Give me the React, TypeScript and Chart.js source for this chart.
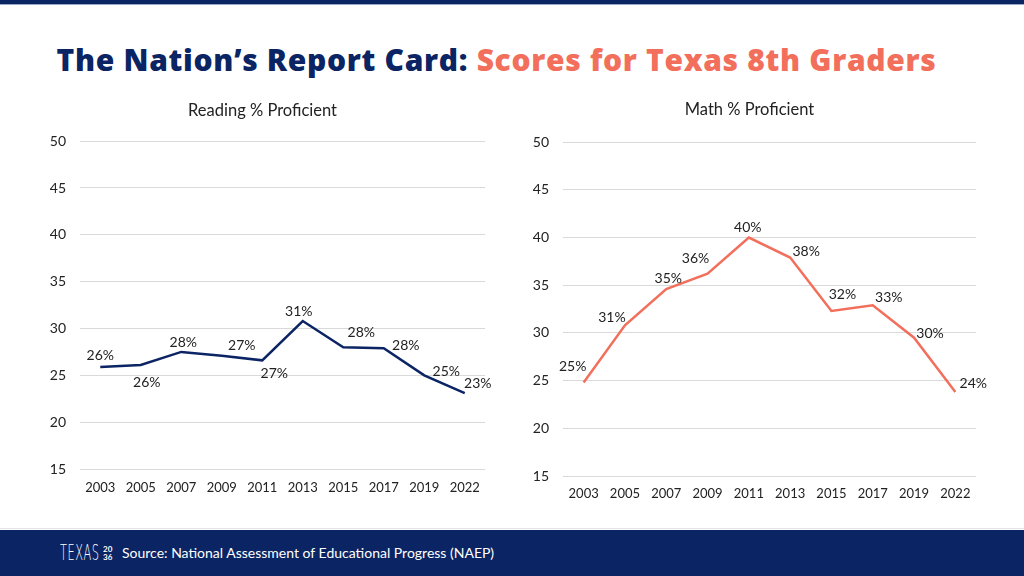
import React, { useEffect, useRef } from "react";
import { Chart, registerables } from "chart.js";

Chart.register(...registerables);

const years = ["2003", "2005", "2007", "2009", "2011", "2013", "2015", "2017", "2019", "2022"];
const readingValues = [25.9, 26.1, 27.5, 27.1, 26.6, 30.8, 28.0, 27.9, 25.0, 23.1];
const readingLabels = ["26%", "26%", "28%", "27%", "27%", "31%", "28%", "28%", "25%", "23%"];
const mathValues = [24.8, 30.8, 34.6, 36.2, 40.0, 37.9, 32.3, 32.9, 29.5, 23.8];
const mathLabels = ["25%", "31%", "35%", "36%", "40%", "38%", "32%", "33%", "30%", "24%"];
const yTicks = [15, 20, 25, 30, 35, 40, 45, 50];

const NAVY = "#0b2463";
const CORAL = "#f26f5c";
const FONT = "Lato, 'Noto Sans', sans-serif";

const readingOffsets: [number, number][] = [
  [0, -11], [6, 17], [2, -9], [20, -10], [12, 13], [-4, -10], [18, -15], [22, -3], [22, -4], [13, -10],
];
const mathOffsets: [number, number][] = [
  [-11, -16], [-13, -8], [2, -11], [-12, -15], [-1, -10], [16, -6], [11, -16], [16, -8], [16, -4], [18, -9],
];

const pointLabelPlugin = {
  id: "pointLabels",
  afterDatasetsDraw(chart: any, _args: any, opts: any) {
    const { ctx } = chart;
    const meta = chart.getDatasetMeta(0);
    ctx.save();
    ctx.font = `14px ${FONT}`;
    ctx.fillStyle = "#222";
    ctx.textAlign = "center";
    ctx.textBaseline = "middle";
    meta.data.forEach((pt: any, i: number) => {
      const [dx, dy] = opts.offsets[i] || [0, -10];
      ctx.fillText(opts.labels[i], pt.x + dx, pt.y + dy);
    });
    ctx.restore();
  },
};

function LineChart(props: {
  title: string;
  values: number[];
  labels: string[];
  offsets: [number, number][];
  color: string;
  titlePadTop: number;
  titlePadBottom: number;
  xPad: number;
  rightPad: number;
  w: number;
  h: number;
}) {
  const ref = useRef<HTMLCanvasElement>(null);
  useEffect(() => {
    if (!ref.current) return;
    const chart = new Chart(ref.current, {
      type: "line",
      data: {
        labels: years,
        datasets: [
          {
            data: props.values,
            borderColor: props.color,
            borderWidth: 2.5,
            pointRadius: 0,
            tension: 0,
            fill: false,
          },
        ],
      },
      options: {
        animation: false,
        responsive: false,
        maintainAspectRatio: false,
        devicePixelRatio: 1,
        layout: { padding: { left: 0, right: props.rightPad, top: 0, bottom: 0 } },
        plugins: {
          legend: { display: false },
          tooltip: { enabled: false },
          title: {
            display: true,
            text: props.title,
            color: "#222",
            font: { family: FONT, size: 16.5, weight: "normal", lineHeight: 1.1 },
            padding: { top: props.titlePadTop, bottom: props.titlePadBottom },
          },
          pointLabels: { labels: props.labels, offsets: props.offsets },
        } as any,
        scales: {
          x: {
            offset: true,
            grid: { display: false, drawTicks: false },
            border: { display: false },
            ticks: { color: "#222", font: { family: FONT, size: 13 }, padding: props.xPad, maxRotation: 0, autoSkip: false },
            afterFit: (s: any) => { s.height = 30; },
          },
          y: {
            min: 15,
            max: 50,
            afterBuildTicks: (s: any) => { s.ticks = yTicks.map((v) => ({ value: v })); },
            grid: { color: "#d9d9d9", lineWidth: 1, drawTicks: false },
            border: { display: false },
            ticks: { color: "#222", font: { family: FONT, size: 14 }, padding: 14 },
            afterFit: (s: any) => { s.width = 40; },
          },
        },
      },
      plugins: [pointLabelPlugin],
    });
    return () => chart.destroy();
  }, []);
  return <canvas ref={ref} width={props.w} height={props.h} style={{ width: props.w, height: props.h, display: "block" }} />;
}

export default function App() {
  return (
    <div style={{ position: "fixed", left: 0, top: 0, width: 1024, height: 576, background: "#fff", overflow: "hidden", fontFamily: FONT }}>
      <div style={{ position: "absolute", left: 0, top: 0, width: 1024, height: 4, background: NAVY }} />
      <div style={{ position: "absolute", left: 0, top: 4, width: 1024, height: 1, background: "#9aa6c4" }} />
      <div style={{ position: "absolute", left: 0, top: 39, width: 993, textAlign: "center", fontSize: 30, fontWeight: 800, lineHeight: "42px", letterSpacing: 0.68, fontFamily: "'Open Sans', sans-serif", whiteSpace: "nowrap" }}>
        <span style={{ color: NAVY }}>The Nation’s Report Card: </span>
        <span style={{ color: CORAL }}>Scores for Texas 8th Graders</span>
      </div>
      <div style={{ position: "absolute", left: 40, top: 95 }}>
        <LineChart w={460} h={404} title="Reading % Proficient" values={readingValues} labels={readingLabels} offsets={readingOffsets} color={NAVY} titlePadTop={7} titlePadBottom={21} xPad={11} rightPad={15} />
      </div>
      <div style={{ position: "absolute", left: 523, top: 94 }}>
        <LineChart w={470} h={412} title="Math % Proficient" values={mathValues} labels={mathLabels} offsets={mathOffsets} color={CORAL} titlePadTop={7} titlePadBottom={23} xPad={10} rightPad={17} />
      </div>
      <div style={{ position: "absolute", left: 0, top: 528, width: 1024, height: 1, background: "#e3e3e3" }} />
      <div style={{ position: "absolute", left: 0, top: 530, width: 1024, height: 46, background: NAVY, color: "#fff" }}>
        <div style={{ position: "absolute", left: 60, top: 11, height: 24, display: "flex", alignItems: "center" }}>
          <span style={{ fontSize: 21, fontFamily: "'DejaVu Sans'", fontWeight: 300, display: "inline-block", transform: "scaleX(0.54)", transformOrigin: "left center", width: 43, letterSpacing: 1, whiteSpace: "nowrap" }}>TEXAS</span>
          <span style={{ display: "inline-flex", flexDirection: "column", fontSize: 8, lineHeight: "8px", fontWeight: 700 }}>
            <span>20</span>
            <span>36</span>
          </span>
        </div>
        <div style={{ position: "absolute", left: 122, top: 12, fontSize: 14, lineHeight: "22px", whiteSpace: "nowrap" }}>
          Source: National Assessment of Educational Progress (NAEP)
        </div>
      </div>
    </div>
  );
}
